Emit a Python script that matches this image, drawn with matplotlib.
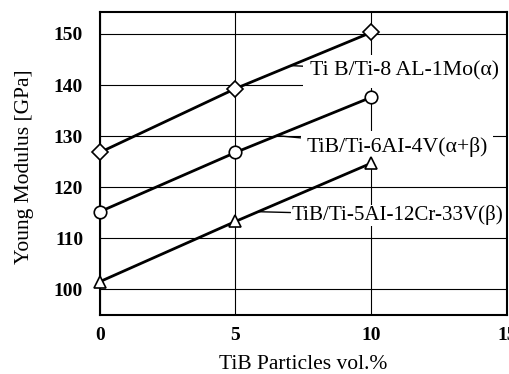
import numpy as np
import matplotlib.pyplot as plt

plt.rcParams['font.family'] = ['Liberation Serif', 'DejaVu Serif']

# TiB 体积分数
tib_vol = [0, 5, 10]
# 三种合金的杨氏模量 (GPa)
e_alpha = [126.8, 139.3, 150.3]
e_alpha_beta = [115.2, 126.8, 137.6]
e_beta = [101.5, 113.3, 124.7]

labels = ["Ti B/Ti-8 AL-1Mo(\u03b1)",
          "TiB/Ti-6AI-4V(\u03b1+\u03b2)",
          "TiB/Ti-5AI-12Cr-33V(\u03b2)"]
xticks = [0, 5, 10, 15]
yticks = [100, 110, 120, 130, 140, 150]

fig = plt.figure(figsize=(5.09, 3.74), dpi=100)
ax = fig.add_axes([0.196, 0.158, 0.800, 0.810])

ax.set_xlim(0, 15)
ax.set_ylim(95, 154.3)
ax.set_xticks(xticks)
ax.set_yticks(yticks)
ax.grid(True, color='black', linewidth=0.8)
ax.set_axisbelow(True)

mk = dict(color='black', linewidth=2.0, markerfacecolor='white',
          markeredgecolor='black', markeredgewidth=1.2, clip_on=False, zorder=3)
ax.plot(tib_vol, e_alpha, marker='D', markersize=8, **mk)
ax.plot(tib_vol, e_alpha_beta, marker='o', markersize=9, **mk)
ax.plot(tib_vol, e_beta, marker='^', markersize=9, **mk)

# 标注文字与引线（白底盖住网格线，但在数据线下面）
txt = dict(va='center', ha='left', zorder=2.5)
arr = dict(arrowstyle='-', color='black', lw=1.0, shrinkA=0, shrinkB=0)
ax.annotate(labels[0], xy=(7.05, 143.8), xytext=(7.75, 142.7),
            arrowprops=arr, fontsize=15.7,
            bbox=dict(facecolor='white', edgecolor='none', pad=5), **txt)
ax.annotate(labels[1], xy=(6.5, 130.1), xytext=(7.6, 127.9),
            arrowprops=arr, fontsize=15.7,
            bbox=dict(facecolor='white', edgecolor='none', pad=4), **txt)
ax.annotate(labels[2], xy=(5.85, 115.2), xytext=(7.05, 114.5),
            arrowprops=arr, fontsize=15.1,
            bbox=dict(facecolor='white', edgecolor='none', pad=0.5), **txt)

ax.tick_params(axis='x', length=0, pad=9, labelsize=14)
ax.tick_params(axis='y', length=0, pad=12, labelsize=14)
for t in ax.get_xticklabels() + ax.get_yticklabels():
    t.set_fontweight('bold')
for s in ax.spines.values():
    s.set_linewidth(1.5)

ax.set_xlabel("TiB Particles vol.%", fontsize=15.5, va='center')
ax.set_ylabel("Young Modulus [GPa]", fontsize=15.5, va='center')
ax.xaxis.set_label_coords(0.5, -0.165)
ax.yaxis.set_label_coords(-0.185, 0.49)

fig.savefig("out.png", dpi=100)
